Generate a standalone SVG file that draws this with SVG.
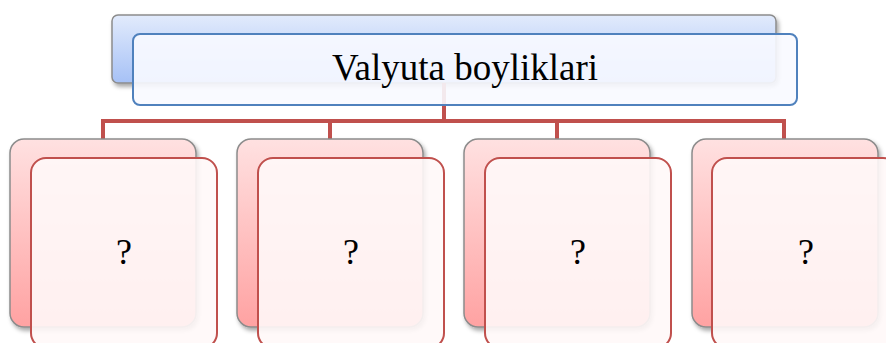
<svg xmlns="http://www.w3.org/2000/svg" width="886" height="343" viewBox="0 0 886 343">
<style>
.topback{fill:url(#gBlue);stroke:#8c8c8c;stroke-width:1.5}
.topfront{fill:#f8faff;fill-opacity:0.9;stroke:#4f81bd;stroke-width:2}
.back{fill:url(#gRed);stroke:#8c8c8c;stroke-width:1.5}
.front{fill:#fff8f8;fill-opacity:0.9;stroke:#c0504d;stroke-width:2}
.conn{fill:none;stroke:#c0504d;stroke-width:4}
.lbl{font-family:"Liberation Serif","Times New Roman",serif;font-size:36px;fill:#000;text-anchor:middle}
.title{font-size:37px}
</style>
<defs>
<linearGradient id="gBlue" x1="0" y1="0" x2="0" y2="1">
<stop offset="0" stop-color="#e2ebfc"/>
<stop offset="1" stop-color="#a6c1f6"/>
</linearGradient>
<linearGradient id="gRed" x1="0" y1="0" x2="0" y2="1">
<stop offset="0" stop-color="#ffe1e1"/>
<stop offset="1" stop-color="#ffa2a2"/>
</linearGradient>
<filter id="sh" x="-10%" y="-10%" width="130%" height="130%">
<feDropShadow dx="2" dy="3" stdDeviation="2" flood-color="#000" flood-opacity="0.35"/>
</filter>
</defs>
<g id="root-back">
<rect class="topback" x="112" y="15" width="664" height="68" rx="6" filter="url(#sh)"/>
</g>
<g id="connectors">
<path class="conn" d="M444 83 V121 M103 121 H784 M103 119 V139 M330 119 V139 M557 119 V139 M784 119 V139"/>
</g>
<g id="root">
<rect class="topfront" x="133" y="34" width="664" height="71" rx="7"/>
<text class="lbl title" x="465" y="80">Valyuta boyliklari</text>
</g>
<g id="child1">
<rect class="back" x="10" y="139" width="186" height="188" rx="14" filter="url(#sh)"/>
<rect class="front" x="31" y="158" width="186" height="190" rx="15"/>
<text class="lbl" x="124" y="264">?</text>
</g>
<g id="child2">
<rect class="back" x="237" y="139" width="186" height="188" rx="14" filter="url(#sh)"/>
<rect class="front" x="258" y="158" width="186" height="190" rx="15"/>
<text class="lbl" x="351" y="264">?</text>
</g>
<g id="child3">
<rect class="back" x="464" y="139" width="186" height="188" rx="14" filter="url(#sh)"/>
<rect class="front" x="485" y="158" width="186" height="190" rx="15"/>
<text class="lbl" x="578" y="264">?</text>
</g>
<g id="child4">
<rect class="back" x="692" y="139" width="186" height="188" rx="14" filter="url(#sh)"/>
<rect class="front" x="712" y="158" width="186" height="190" rx="15"/>
<text class="lbl" x="806" y="264">?</text>
</g>
</svg>
